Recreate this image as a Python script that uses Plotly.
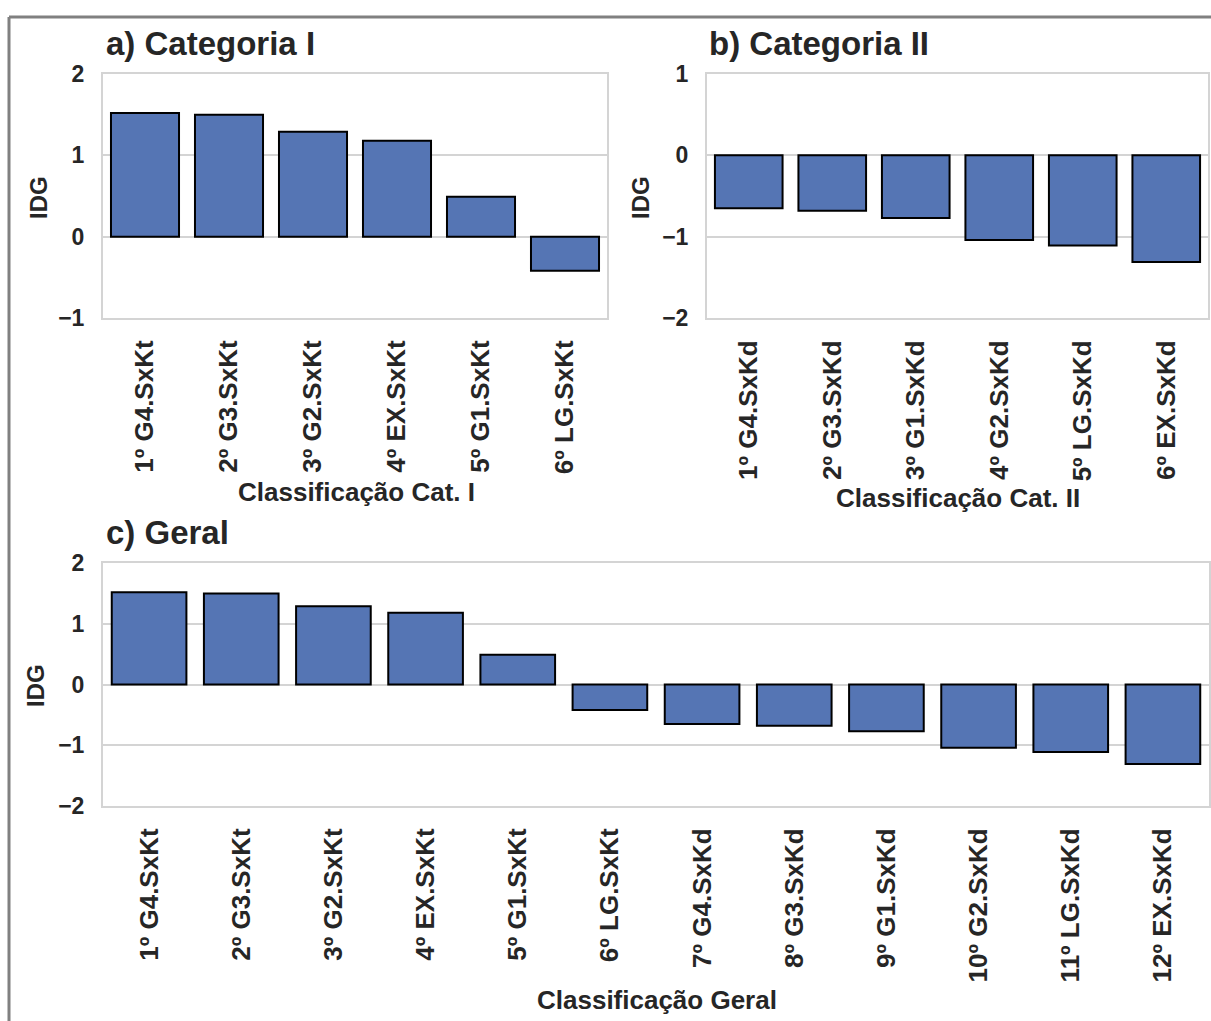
import plotly.graph_objects as go

# IDG per ranking position
cat1_labels = ["1º G4.SxKt", "2º G3.SxKt", "3º G2.SxKt", "4º EX.SxKt", "5º G1.SxKt", "6º LG.SxKt"]
cat1_values = [1.52, 1.50, 1.29, 1.18, 0.49, -0.42]

cat2_labels = ["1º G4.SxKd", "2º G3.SxKd", "3º G1.SxKd", "4º G2.SxKd", "5º LG.SxKd", "6º EX.SxKd"]
cat2_values = [-0.65, -0.68, -0.77, -1.04, -1.11, -1.31]

geral_labels = ["1º G4.SxKt", "2º G3.SxKt", "3º G2.SxKt", "4º EX.SxKt", "5º G1.SxKt", "6º LG.SxKt",
                "7º G4.SxKd", "8º G3.SxKd", "9º G1.SxKd", "10º G2.SxKd", "11º LG.SxKd", "12º EX.SxKd"]
geral_values = cat1_values + cat2_values

W, H = 1211, 1021
FONT = "Liberation Sans, Arial, sans-serif"
TXT = "#262626"
GRID = "#d4d4d4"
BAR = "#5575b4"


def fx(px):
    return px / W


def fy(py):
    return 1 - py / H


fig = go.Figure()

bar_style = dict(marker=dict(color=BAR, line=dict(color="black", width=2)), showlegend=False)
fig.add_trace(go.Bar(x=cat1_labels, y=cat1_values, xaxis="x", yaxis="y", **bar_style))
fig.add_trace(go.Bar(x=cat2_labels, y=cat2_values, xaxis="x2", yaxis="y2", **bar_style))
fig.add_trace(go.Bar(x=geral_labels, y=geral_values, xaxis="x3", yaxis="y3", **bar_style))

xcommon = dict(type="category", tickangle=-90, showgrid=False, zeroline=False, automargin=False,
               showline=True, mirror=True, linecolor=GRID, linewidth=2, ticks="",
               tickfont=dict(family=FONT, size=26, color=TXT, weight="bold"), ticklabelstandoff=10)
ycommon = dict(showgrid=True, gridcolor=GRID, gridwidth=2, zeroline=False, automargin=False,
               showline=True, mirror=True, linecolor=GRID, linewidth=2, ticks="",
               dtick=1, tickfont=dict(family=FONT, size=23, color=TXT, weight="bold"),
               ticklabelstandoff=12)

fig.update_layout(
    width=W, height=H,
    margin=dict(l=0, r=0, t=0, b=0, autoexpand=False),
    paper_bgcolor="white", plot_bgcolor="white",
    bargap=0.19,
    font=dict(family=FONT, color=TXT),
    xaxis=dict(domain=[fx(103), fx(607)], anchor="y", **xcommon),
    yaxis=dict(domain=[fy(318), fy(74)], anchor="x", range=[-1, 2], **ycommon),
    xaxis2=dict(domain=[fx(707), fx(1208)], anchor="y2", **xcommon),
    yaxis2=dict(domain=[fy(318), fy(74)], anchor="x2", range=[-2, 1], **ycommon),
    xaxis3=dict(domain=[fx(103), fx(1209)], anchor="y3", **xcommon),
    yaxis3=dict(domain=[fy(806), fy(563)], anchor="x3", range=[-2, 2], **ycommon),
)

annotations = [
    # panel titles
    dict(text="<b>a) Categoria I</b>", x=fx(104), y=fy(43), xanchor="left", yanchor="middle", size=33),
    dict(text="<b>b) Categoria II</b>", x=fx(707), y=fy(43), xanchor="left", yanchor="middle", size=33),
    dict(text="<b>c) Geral</b>", x=fx(104), y=fy(532), xanchor="left", yanchor="middle", size=33),
    # axis titles
    dict(text="<b>Classificação Cat. I</b>", x=fx(356), y=fy(492), xanchor="center", yanchor="middle", size=26),
    dict(text="<b>Classificação Cat. II</b>", x=fx(958), y=fy(498), xanchor="center", yanchor="middle", size=26),
    dict(text="<b>Classificação Geral</b>", x=fx(657), y=fy(1000), xanchor="center", yanchor="middle", size=26),
    dict(text="<b>IDG</b>", x=fx(38), y=fy(198), xanchor="center", yanchor="middle", size=24, textangle=-90),
    dict(text="<b>IDG</b>", x=fx(640), y=fy(198), xanchor="center", yanchor="middle", size=24, textangle=-90),
    dict(text="<b>IDG</b>", x=fx(35), y=fy(686), xanchor="center", yanchor="middle", size=24, textangle=-90),
]
for a in annotations:
    size = a.pop("size")
    fig.add_annotation(xref="paper", yref="paper", showarrow=False,
                       font=dict(family=FONT, size=size, color=TXT), **a)

# outer frame (top and left edges)
frame = dict(type="line", xref="paper", yref="paper", line=dict(color="#808080", width=3))
fig.add_shape(x0=fx(9), x1=1.0, y0=fy(17), y1=fy(17), **frame)
fig.add_shape(x0=fx(9), x1=fx(9), y0=fy(17), y1=0.0, **frame)

fig.write_html("out.html")
